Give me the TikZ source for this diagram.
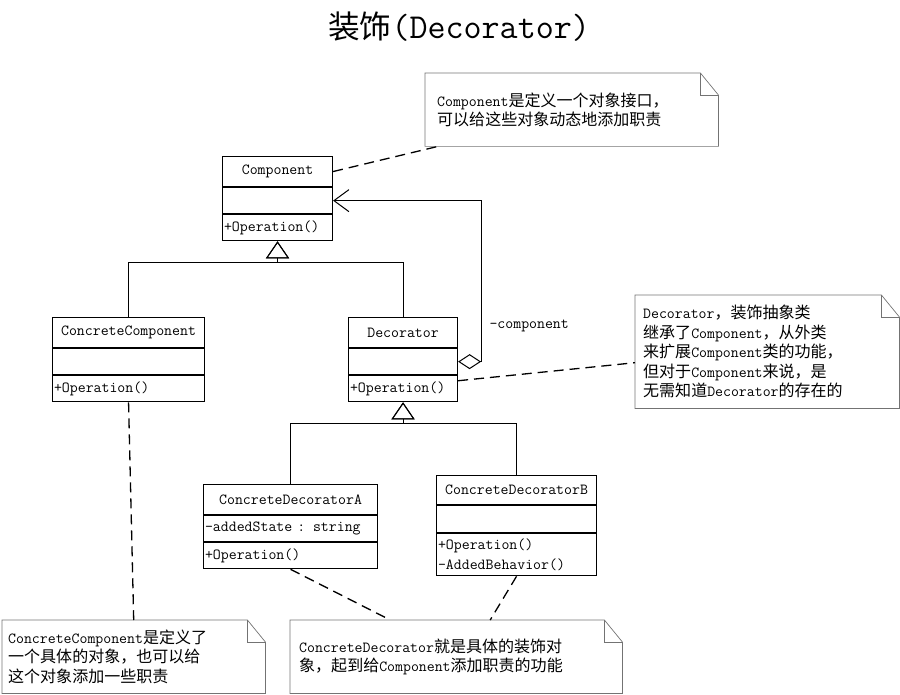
\documentclass[tikz,border=0pt]{standalone}
\usepackage{fontspec}
\usepackage{tikz}
\usetikzlibrary{calc,arrows.meta,positioning}
\newfontfamily\zhfont[Scale=1.04]{Noto Sans CJK SC}
\newcommand{\zh}[1]{{\zhfont #1}}
\definecolor{notegrey}{gray}{0.45}
\tikzset{inherit/.style={line width=1pt,-{Triangle[open,length=17pt,width=23pt,line width=1pt]}},
notelink/.style={line width=1.3pt,dash pattern=on 10pt off 6pt}}

\begin{document}
\begin{tikzpicture}[x=1pt,y=-1pt,font=\ttfamily\fontsize{15.4}{19.5}\selectfont]

\tikzset{classtitle/.style={draw,line width=1.1pt,minimum width=#1,minimum height=30,inner sep=0pt},
classpart/.style={draw,line width=1.1pt,text width=#1,minimum height=26,align=left,inner xsep=1.5pt,inner ysep=0pt},
notebox/.style={text width=#1,align=left,inner xsep=0pt,inner ysep=0pt},
noteline/.style={draw=notegrey,line width=0.7pt}}

\useasboundingbox (0,0) rectangle (900,695);

% Title
\node (title) at (459,27) {{\fontsize{30.5}{34}\selectfont\zh{装饰}}{\fontsize{35}{40}\selectfont(Decorator)}};

% Classes
\node[classtitle=110,anchor=north west] (compT) at (222,156) {Component};
\node[classpart=107,below=0pt of compT] (compA) {};
\node[classpart=107,below=0pt of compA] (compO) {+Operation()};

\node[classtitle=152,anchor=north west] (ccT) at (52,317) {ConcreteComponent};
\node[classpart=149,below=0pt of ccT] (ccA) {};
\node[classpart=149,below=0pt of ccA] (ccO) {+Operation()};

\node[classtitle=109,anchor=north west] (decT) at (348,317) {Decorator};
\node[classpart=106,below=0pt of decT] (decA) {};
\node[classpart=106,below=0pt of decA] (decO) {+Operation()};

\node[classtitle=174,anchor=north west] (cdaT) at (203,484) {ConcreteDecoratorA};
\node[classpart=171,below=0pt of cdaT] (cdaA) {-addedState : string};
\node[classpart=171,below=0pt of cdaA] (cdaO) {+Operation()};

\node[classtitle=160,anchor=north west,minimum height=29] (cdbT) at (436,475) {ConcreteDecoratorB};
\node[classpart=157,below=0pt of cdbT,minimum height=27] (cdbA) {};
\node[classpart=157,below=0pt of cdbA,minimum height=42] (cdbO) {+Operation()\\-AddedBehavior()};

% Inheritance
\coordinate (compJ) at ($(compO.south)+(0,21)$);
\coordinate (decJ) at ($(decO.south)+(0,21)$);
\draw[inherit] (ccT.north) |- (compJ) -- (compO.south);
\draw[inherit] (decT.north) |- (compJ) -- (compO.south);
\draw[inherit] (cdaT.north) |- (decJ) -- (decO.south);
\draw[inherit] (cdbT.north) |- (decJ) -- (decO.south);

% Aggregation
\coordinate (aggTurn) at ($(compA.east)+(148,0)$);
\draw[line width=1pt,{Diamond[open,length=23pt,width=15pt,line width=1pt]}-{Straight Barb[length=15pt,width=22pt,line width=1pt]}] (decA.east) -| (aggTurn) -- (compA.east);
\node[anchor=west] (role) at (486,326) {-component};

% Notes
\node[notebox=269,minimum width=293,minimum height=73,anchor=north west] (nTop) at (425,73) {Component\zh{是定义一个对象接口，}\\\zh{可以给这些对象动态地添加职责}};
\node[notebox=248,minimum width=264,minimum height=113,anchor=north west] (nDec) at (635,295) {Decorator\zh{，装饰抽象类}\\\zh{继承了}Component\zh{，从外类}\\\zh{来扩展}Component\zh{类的功能，}\\\zh{但对于}Component\zh{来说，是}\\\zh{无需知道}Decorator\zh{的存在的}};
\node[notebox=251,minimum width=263,minimum height=73,anchor=north west] (nCC) at (2,620) {ConcreteComponent\zh{是定义了}\\\zh{一个具体的对象，也可以给}\\\zh{这个对象添加一些职责}};
\node[notebox=314,minimum width=332,minimum height=73,anchor=north west] (nCD) at (290,620) {ConcreteDecorator\zh{就是具体的装饰对}\\\zh{象，起到给}Component\zh{添加职责的功能}};

\foreach \n in {nTop,nDec,nCC,nCD} {
  \draw[noteline] (\n.north west) -- ($(\n.north east)+(-18,0)$) -- ($(\n.north east)+(0,22)$) -- (\n.south east) -- (\n.south west) -- cycle;
  \draw[noteline] ($(\n.north east)+(-18,0)$) -- ($(\n.north east)+(-18,22)$) -- ($(\n.north east)+(0,22)$);
}

% Note links
\draw[notelink] (compT.east) -- ([xshift=13pt]nTop.south west);
\draw[notelink] ([yshift=8pt]decO.east) -- ([yshift=-11pt]nDec.west);
\draw[notelink] (ccO.south) -- (nCC.north);
\draw[notelink] (cdaO.south) -- ([xshift=-66pt]nCD.north);
\draw[notelink] (cdbO.south) -- ([xshift=34pt]nCD.north);

\end{tikzpicture}
\end{document}
